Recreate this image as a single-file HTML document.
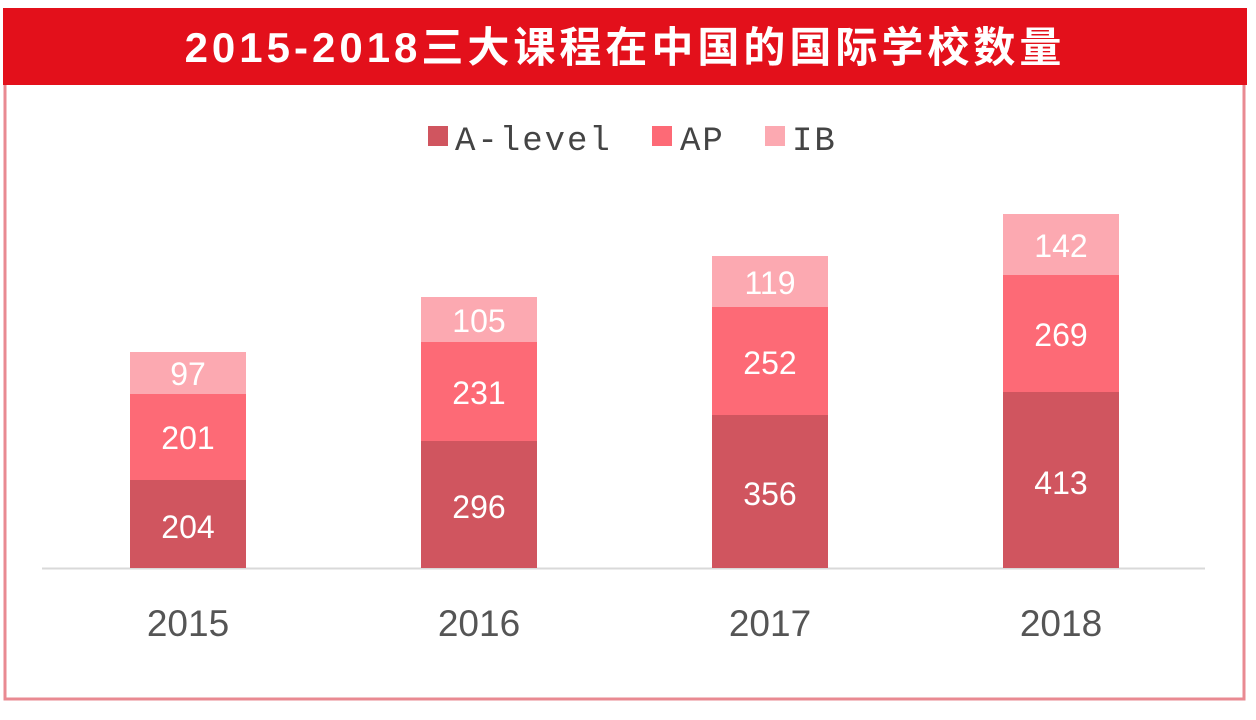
<!DOCTYPE html>
<html><head><meta charset="utf-8"><style>
body{margin:0;background:#fff;width:1256px;height:715px;overflow:hidden;font-family:"Liberation Sans","Noto Sans CJK SC",sans-serif}
</style></head><body>
<svg width="1256" height="715" xmlns="http://www.w3.org/2000/svg" font-family="Liberation Sans, Noto Sans CJK SC, sans-serif">
<rect x="5" y="10" width="1239" height="689" fill="#fff" stroke="#e98a92" stroke-width="3"/>
<rect x="3" y="8" width="1244" height="77" fill="#e3101b"/>
<text x="625" y="62" text-anchor="middle" fill="#fff" font-size="42" font-weight="bold" letter-spacing="4">2015-2018三大课程在中国的国际学校数量</text>
<g font-size="34" fill="#444" font-family="Liberation Mono, monospace" letter-spacing="2">
<rect x="428" y="126" width="20" height="20" fill="#d0555f"/><text x="455" y="150">A-level</text>
<rect x="652" y="126" width="20" height="20" fill="#fd6a76"/><text x="680" y="150">AP</text>
<rect x="765" y="126" width="20" height="20" fill="#fca9b1"/><text x="792" y="150">IB</text>
</g>
<line x1="42" y1="568.5" x2="1205" y2="568.5" stroke="#d9d9d9" stroke-width="2"/>
<g>
<rect x="130" y="480" width="116" height="88" fill="#d0555f"/><rect x="130" y="394" width="116" height="86" fill="#fd6a76"/><rect x="130" y="352" width="116" height="42" fill="#fca9b1"/>
<rect x="421" y="441" width="116" height="127" fill="#d0555f"/><rect x="421" y="342" width="116" height="99" fill="#fd6a76"/><rect x="421" y="297" width="116" height="45" fill="#fca9b1"/>
<rect x="712" y="415" width="116" height="153" fill="#d0555f"/><rect x="712" y="307" width="116" height="108" fill="#fd6a76"/><rect x="712" y="256" width="116" height="51" fill="#fca9b1"/>
<rect x="1003" y="392" width="116" height="176" fill="#d0555f"/><rect x="1003" y="275" width="116" height="117" fill="#fd6a76"/><rect x="1003" y="214" width="116" height="61" fill="#fca9b1"/>
</g>
<g fill="#fff" font-size="32" text-anchor="middle">
<text x="188" y="538">204</text><text x="188" y="449">201</text><text x="188" y="385">97</text>
<text x="479" y="518">296</text><text x="479" y="404">231</text><text x="479" y="332">105</text>
<text x="770" y="505">356</text><text x="770" y="374">252</text><text x="770" y="294">119</text>
<text x="1061" y="494">413</text><text x="1061" y="346">269</text><text x="1061" y="257">142</text>
</g>
<g fill="#555" font-size="37" text-anchor="middle">
<text x="188" y="636">2015</text><text x="479" y="636">2016</text><text x="770" y="636">2017</text><text x="1061" y="636">2018</text>
</g>
</svg>
</body></html>
